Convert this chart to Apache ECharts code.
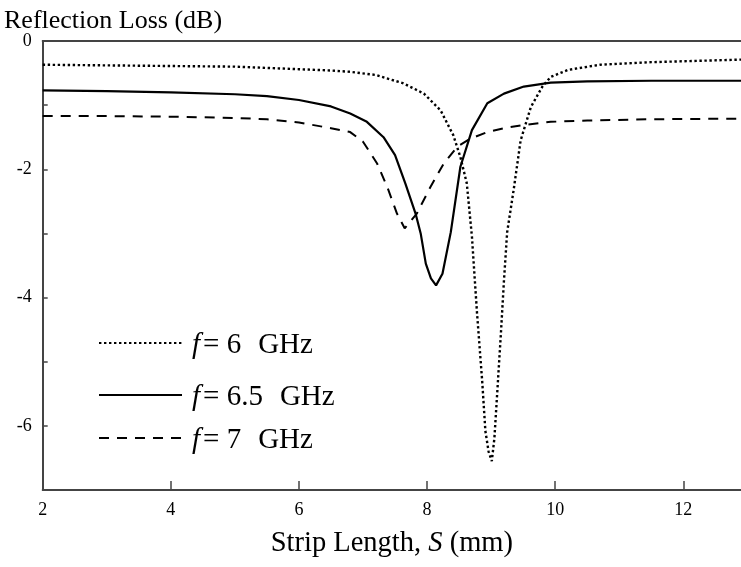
<!DOCTYPE html>
<html>
<head>
<meta charset="utf-8">
<script src="https://cdn.jsdelivr.net/npm/echarts@6/dist/echarts.min.js"></script>
<style>html,body{margin:0;padding:0;background:#fff;}#c{width:741px;height:567px;}</style>
</head>
<body>
<div id="c"></div>
<script>
const seriesNames = ['6 GHz', '6.5 GHz', '7 GHz'];
const s6x = [2, 3, 4, 5, 5.5, 6, 6.5, 6.8, 7.2, 7.63, 7.95, 8.21, 8.41, 8.52, 8.62, 8.7, 8.78, 8.86, 8.91, 8.96, 9.01, 9.05, 9.1, 9.15, 9.2, 9.25, 9.35, 9.46, 9.62, 9.8, 9.93, 10.2, 10.7, 11.5, 12.2, 12.9];
const s6y = [-0.37, -0.38, -0.39, -0.40, -0.42, -0.44, -0.46, -0.48, -0.53, -0.66, -0.82, -1.08, -1.47, -1.81, -2.22, -3.05, -4.25, -5.30, -6.08, -6.4, -6.55, -6.2, -5.4, -4.6, -3.73, -2.98, -2.33, -1.55, -1.03, -0.71, -0.56, -0.45, -0.37, -0.33, -0.31, -0.29];
const s65x = [2, 3, 4, 5, 5.5, 6, 6.5, 6.8, 7.06, 7.32, 7.5, 7.66, 7.82, 7.9, 7.98, 8.06, 8.14, 8.24, 8.37, 8.52, 8.7, 8.94, 9.2, 9.51, 9.93, 10.5, 11.5, 12.9];
const s65y = [-0.77, -0.78, -0.80, -0.83, -0.86, -0.92, -1.02, -1.13, -1.26, -1.50, -1.78, -2.22, -2.69, -3.0, -3.47, -3.7, -3.81, -3.63, -2.98, -1.96, -1.39, -0.97, -0.82, -0.71, -0.65, -0.63, -0.62, -0.62];
const s7x = [2, 3, 4, 5, 5.5, 6, 6.5, 6.8, 7.0, 7.22, 7.38, 7.53, 7.65, 7.84, 8.05, 8.26, 8.47, 8.68, 8.94, 9.25, 9.51, 9.93, 10.5, 11.5, 12.9];
const s7y = [-1.17, -1.17, -1.18, -1.20, -1.22, -1.27, -1.36, -1.42, -1.57, -1.91, -2.28, -2.69, -2.92, -2.69, -2.28, -1.91, -1.65, -1.52, -1.42, -1.35, -1.31, -1.26, -1.24, -1.22, -1.21];
const xTickLabels = [2, 4, 6, 8, 10, 12];
const yTickLabels = [0, -2, -4, -6];

const zip = (xs, ys) => xs.map((x, i) => [x, ys[i]]);
const FONT = '"Liberation Serif", "Times New Roman", serif';

const chart = echarts.init(document.getElementById('c'), null, {renderer: 'canvas'});
const legendBase = (name, top) => ({
  data: [name], left: 93, top: top, orient: 'vertical',
  itemWidth: 83, itemHeight: 14, selectedMode: false,
  itemStyle: {opacity: 0},
  formatter: n => {
    const parts = n.split(' ');
    return '{i|f}= ' + parts[0] + '{g|' + parts[1] + '}';
  },
  textStyle: {fontFamily: FONT, fontSize: 29, color: '#000', padding: [5, 0, 0, 5],
    rich: {
      i: {fontFamily: FONT, fontSize: 29, fontStyle: 'italic', color: '#000', padding: [0, 3, 0, 0]},
      g: {fontFamily: FONT, fontSize: 29, color: '#000', padding: [0, 0, 0, 17]}
    }}
});
chart.setOption({
  animation: false,
  backgroundColor: '#fff',
  title: {text: 'Reflection Loss (dB)', left: 4, top: 8, padding: 0,
    textStyle: {fontFamily: FONT, fontSize: 26, fontWeight: 'normal', color: '#000'}},
  legend: [legendBase(seriesNames[0], 326), legendBase(seriesNames[1], 378), legendBase(seriesNames[2], 421)],
  grid: {left: 42.7, top: 41, right: 0, bottom: 77, containLabel: false},
  xAxis: [{
    type: 'value', min: 2, max: 12.9, interval: 2, position: 'bottom',
    name: 'Strip Length, {i|S} (mm)', nameLocation: 'middle', nameGap: 39,
    nameTextStyle: {fontFamily: FONT, fontSize: 28.5, color: '#000',
      rich: {i: {fontFamily: FONT, fontSize: 28.5, fontStyle: 'italic', color: '#000'}}},
    axisLine: {show: true, onZero: false, lineStyle: {color: '#444', width: 2}},
    axisTick: {show: true, inside: true, length: 9, lineStyle: {color: '#444', width: 1.5}},
    axisLabel: {fontFamily: FONT, fontSize: 18, color: '#000', margin: 11, showMaxLabel: false,
      formatter: v => xTickLabels.includes(v) ? String(v) : ''},
    splitLine: {show: false}
  }, {
    type: 'value', min: 2, max: 12.9, position: 'top',
    axisLine: {show: true, onZero: false, lineStyle: {color: '#444', width: 2}},
    axisTick: {show: false}, axisLabel: {show: false}, splitLine: {show: false}
  }],
  yAxis: {
    type: 'value', min: -7, max: 0, interval: 1,
    axisLine: {show: true, onZero: false, lineStyle: {color: '#444', width: 2}},
    axisTick: {show: true, inside: true, length: 5, lineStyle: {color: '#444', width: 1.5}},
    axisLabel: {fontFamily: FONT, fontSize: 18, color: '#000', margin: 11, padding: [8, 0, 0, 0],
      formatter: v => yTickLabels.includes(v) ? String(v) : ''},
    splitLine: {show: false}
  },
  series: [
    {name: seriesNames[0], type: 'line', data: zip(s6x, s6y), symbol: 'none',
      lineStyle: {color: '#000', width: 2.4, type: [2.4, 2.6]}, itemStyle: {color: '#000'}},
    {name: seriesNames[1], type: 'line', data: zip(s65x, s65y), symbol: 'none',
      lineStyle: {color: '#000', width: 2.2, type: 'solid'}, itemStyle: {color: '#000'}},
    {name: seriesNames[2], type: 'line', data: zip(s7x, s7y), symbol: 'none',
      lineStyle: {color: '#000', width: 2, type: [10, 8]}, itemStyle: {color: '#000'}}
  ]
});
</script>
</body>
</html>
